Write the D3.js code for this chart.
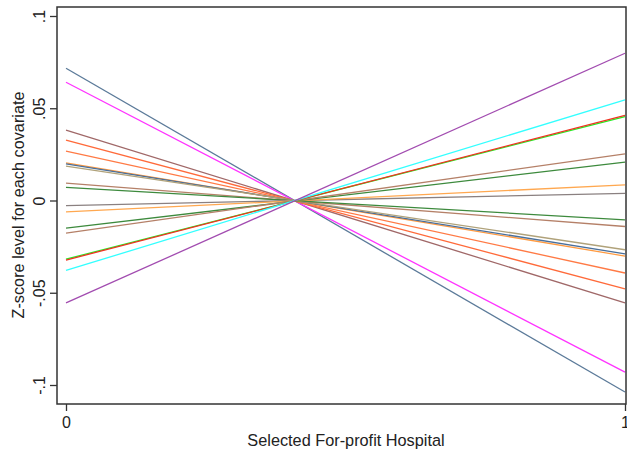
<!DOCTYPE html>
<html>
<head>
<meta charset="utf-8">
<script src="https://cdn.jsdelivr.net/npm/d3@7.9.0/dist/d3.min.js"></script>
<style>
  body { margin: 0; background: #fff; }
  svg { display: block; font-family: "Liberation Sans", Arial, sans-serif; }
</style>
</head>
<body>
<svg width="627" height="455"></svg>
<script>
// value of each covariate line at x = 0 and x = 1
const groups = [0, 1];
const startValues = [0.0717, 0.0641, 0.0381, 0.0327, 0.0267, 0.0204, 0.0199, 0.0186, 0.0094, 0.0071,
  -0.0028, -0.0062, -0.0150, -0.0177, -0.0318, -0.0323, -0.0379, -0.0555];
const endValues = [-0.1038, -0.0930, -0.0555, -0.0479, -0.0393, -0.0301, -0.0289, -0.0267, -0.0141, -0.0105,
  0.0039, 0.0085, 0.0208, 0.0253, 0.0455, 0.0462, 0.0546, 0.0798];
const lineColors = ['#5b7a99', '#ff33ff', '#a06868', '#ff6a3a', '#ff7a45', '#ff9a40', '#4a6f9a', '#b0a27a',
  '#b58068', '#3d8a3d', '#8a8080', '#ffa850', '#3d8a3d', '#b58068', '#22ee22', '#ee3322', '#33ffff', '#a24cb0'];
const yTicks = [-0.1, -0.05, 0, 0.05, 0.1];
const yTickLabels = ['-.1', '-.05', '0', '.05', '.1'];
const xTicks = [0, 1];

const svg = d3.select('svg');

const x = d3.scaleLinear().domain([0, 1]).range([66, 625]);
const y = d3.scaleLinear().domain([-0.1, 0.1]).range([385, 16]);

const frame = { left: 57, top: 7, right: 626, bottom: 404 };

// lines
let line = d3.line()
  .x((d) => x(d.x))
  .y((d) => y(d.y));

startValues.forEach((s, i) => {
  let pts = [{ x: groups[0], y: s }, { x: groups[1], y: endValues[i] }];
  svg.append('path')
    .attr('d', line(pts))
    .attr('fill', 'none')
    .attr('stroke', lineColors[i])
    .attr('stroke-width', 1.3);
});

// frame
svg.append('rect')
  .attr('x', frame.left)
  .attr('y', frame.top)
  .attr('width', frame.right - frame.left)
  .attr('height', frame.bottom - frame.top)
  .attr('fill', 'none')
  .attr('stroke', '#333')
  .attr('stroke-width', 1.5);

// y axis
let yAxis = d3.axisLeft(y)
  .tickValues(yTicks)
  .tickFormat((d, i) => yTickLabels[i])
  .tickSizeOuter(0)
  .tickSize(7)
  .tickPadding(10);

let gy = svg.append('g')
  .attr('transform', `translate(${frame.left},0)`)
  .call(yAxis);
gy.select('.domain').remove();
gy.selectAll('line').attr('stroke', '#333').attr('stroke-width', 1.3);
gy.selectAll('text')
  .attr('x', null)
  .attr('transform', 'translate(-12,0) rotate(-90)')
  .attr('text-anchor', 'middle')
  .attr('dy', '0')
  .attr('fill', '#222')
  .style('font-size', '16px');

// x axis
let xAxis = d3.axisBottom(x)
  .tickValues(xTicks)
  .tickFormat(d3.format('d'))
  .tickSizeOuter(0)
  .tickSize(7)
  .tickPadding(6);

let gx = svg.append('g')
  .attr('transform', `translate(0,${frame.bottom})`)
  .call(xAxis);
gx.select('.domain').remove();
gx.selectAll('line').attr('stroke', '#333').attr('stroke-width', 1.3);
gx.selectAll('text')
  .attr('fill', '#222')
  .style('font-size', '16px');

// axis titles
svg.append('text')
  .attr('x', 346)
  .attr('y', 446)
  .attr('text-anchor', 'middle')
  .attr('fill', '#222')
  .style('font-size', '16.3px')
  .text('Selected For-profit Hospital');

svg.append('text')
  .attr('transform', 'translate(24,205) rotate(-90)')
  .attr('text-anchor', 'middle')
  .attr('fill', '#222')
  .style('font-size', '16.3px')
  .text('Z-score level for each covariate');
</script>
</body>
</html>
